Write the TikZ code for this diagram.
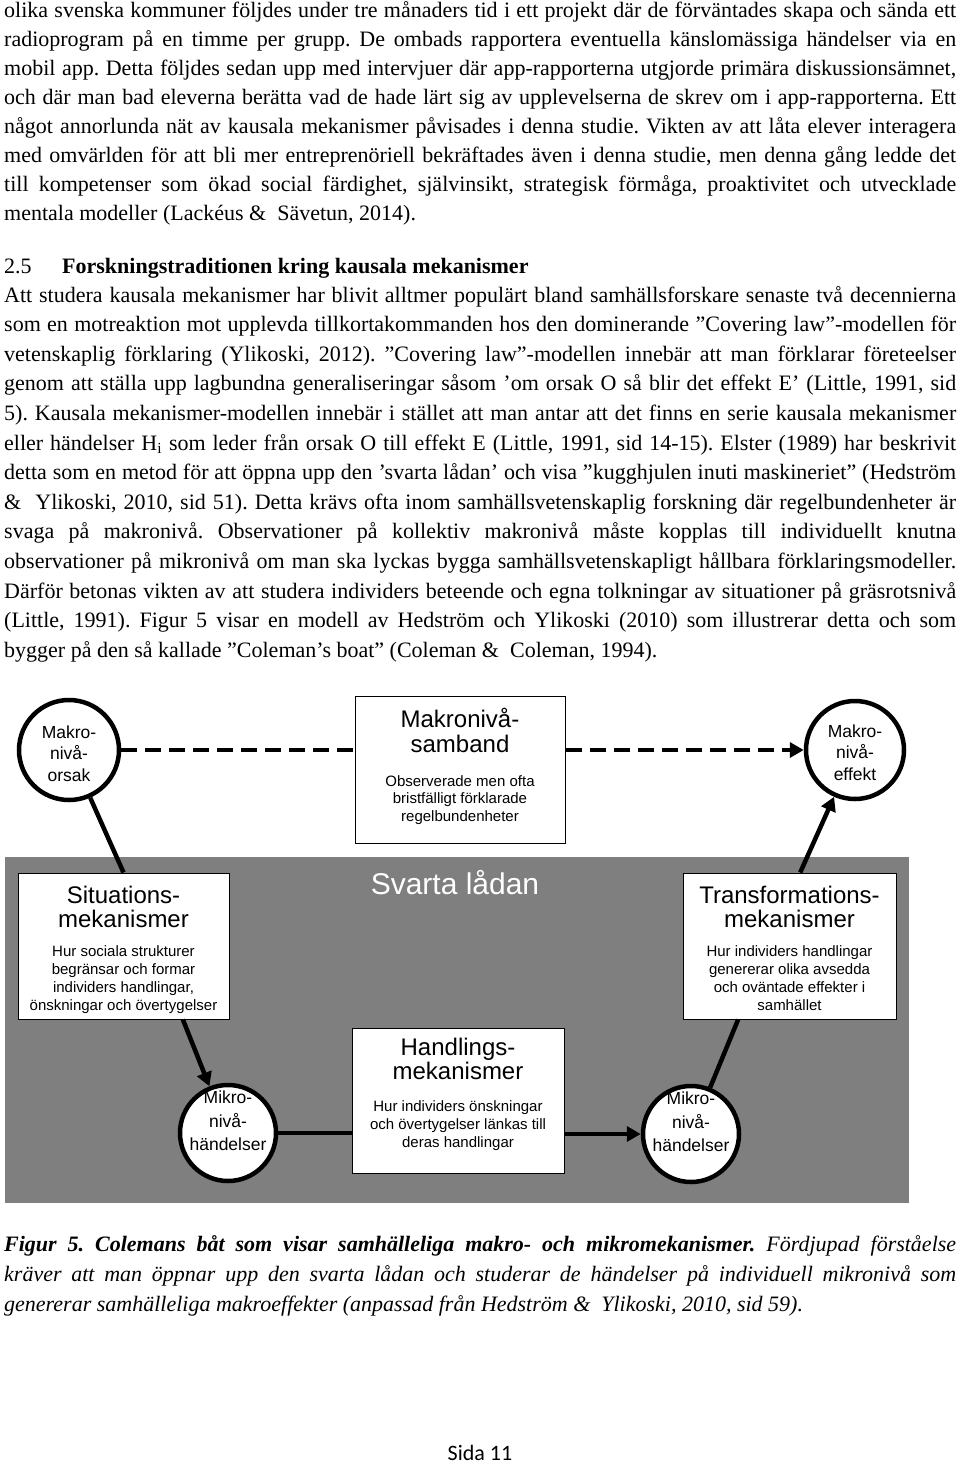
\documentclass[tikz,border=0pt]{standalone}
\usepackage{fontspec}
\usepackage{graphicx}
\setmainfont{Liberation Serif}
\newfontfamily\diafont{Liberation Sans}
\newfontfamily\pagefont{Carlito}
\usetikzlibrary{arrows.meta,calc}
\definecolor{boxgray}{RGB}{127,127,127}
\frenchspacing
\newcommand\jline[1]{\setbox0\hbox{#1}\ifdim\wd0>952pt \resizebox{952pt}{\height}{\box0}\else\makebox[952pt][s]{#1}\fi}
\tikzset{
  body/.style={anchor=base west,inner sep=0pt,font=\fontsize{22}{26}\selectfont},
  diatitle/.style={anchor=base,inner sep=0pt,font=\diafont\fontsize{24}{25}\selectfont},
  diasub/.style={anchor=base,inner sep=0pt,font=\diafont\fontsize{15}{17}\selectfont},
  circtext/.style={anchor=base,inner sep=0pt,font=\diafont\fontsize{17.5}{20}\selectfont},
  mbox/.style={draw=black,line width=1pt,fill=white,rectangle,inner sep=0pt},
  level/.style={draw=black,line width=4.5pt,fill=white,circle,minimum size=96pt,inner sep=0pt},
  link/.style={line width=4.5pt,draw=black},
  arrowlink/.style={link,-{Triangle[length=14pt,width=15pt]}},
  dashlink/.style={link,dash pattern=on 16pt off 8pt}
}
\begin{document}
\begin{tikzpicture}[x=1pt,y=-1pt]
\useasboundingbox (0,0) rectangle (960,1465);
\fill[white] (0,0) rectangle (960,1465);
% paragraph 1
\node[body] (p1) at (4,17.5) {\jline{olika svenska kommuner följdes under tre månaders tid i ett projekt där de förväntades skapa och sända ett}};
\node[body] (p2) at (4,46.5) {\jline{radioprogram på en timme per grupp. De ombads rapportera eventuella känslomässiga händelser via en}};
\node[body] (p3) at (4,75.5) {\jline{mobil app. Detta följdes sedan upp med intervjuer där app-rapporterna utgjorde primära diskussionsämnet,}};
\node[body] (p4) at (4,104.5) {\jline{och där man bad eleverna berätta vad de hade lärt sig av upplevelserna de skrev om i app-rapporterna. Ett}};
\node[body] (p5) at (4,133.5) {\jline{något annorlunda nät av kausala mekanismer påvisades i denna studie. Vikten av att låta elever interagera}};
\node[body] (p6) at (4,162.5) {\jline{med omvärlden för att bli mer entreprenöriell bekräftades även i denna studie, men denna gång ledde det}};
\node[body] (p7) at (4,191.5) {\jline{till kompetenser som ökad social färdighet, självinsikt, strategisk förmåga, proaktivitet och utvecklade}};
\node[body] (p8) at (4,220.5) {mentala modeller (Lackéus \&~ Sävetun, 2014).};
% heading
\node[body] (h1) at (4,273) {2.5};
\node[body,font=\fontsize{22}{26}\selectfont\bfseries] (h2) at (62,273) {Forskningstraditionen kring kausala mekanismer};
% paragraph 2
\node[body] (q1) at (4,302) {\jline{Att studera kausala mekanismer har blivit alltmer populärt bland samhällsforskare senaste två decennierna}};
\node[body] (q2) at (4,331.6) {\jline{som en motreaktion mot upplevda tillkortakommanden hos den dominerande ”Covering law”-modellen för}};
\node[body] (q3) at (4,361.2) {\jline{vetenskaplig förklaring (Ylikoski, 2012). ”Covering law”-modellen innebär att man förklarar företeelser}};
\node[body] (q4) at (4,390.8) {\jline{genom att ställa upp lagbundna generaliseringar såsom ’om orsak O så blir det effekt E’ (Little, 1991, sid}};
\node[body] (q5) at (4,420.4) {\jline{5). Kausala mekanismer-modellen innebär i stället att man antar att det finns en serie kausala mekanismer}};
\node[body] (q6) at (4,450) {\jline{eller händelser H\textsubscript{i} som leder från orsak O till effekt E (Little, 1991, sid 14-15). Elster (1989) har beskrivit}};
\node[body] (q7) at (4,479.6) {\jline{detta som en metod för att öppna upp den ’svarta lådan’ och visa ”kugghjulen inuti maskineriet” (Hedström}};
\node[body] (q8) at (4,509.2) {\jline{\&~ Ylikoski, 2010, sid 51). Detta krävs ofta inom samhällsvetenskaplig forskning där regelbundenheter är}};
\node[body] (q9) at (4,538.8) {\jline{svaga på makronivå. Observationer på kollektiv makronivå måste kopplas till individuellt knutna}};
\node[body] (q10) at (4,568.4) {\jline{observationer på mikronivå om man ska lyckas bygga samhällsvetenskapligt hållbara förklaringsmodeller.}};
\node[body] (q11) at (4,598) {\jline{Därför betonas vikten av att studera individers beteende och egna tolkningar av situationer på gräsrotsnivå}};
\node[body] (q12) at (4,627.6) {\jline{(Little, 1991). Figur 5 visar en modell av Hedström och Ylikoski (2010) som illustrerar detta och som}};
\node[body] (q13) at (4,657.2) {bygger på den så kallade ”Coleman’s boat” (Coleman \&~ Coleman, 1994).};
% ---------------- diagram ----------------
\fill[boxgray] (5,857) rectangle (909,1203);
\node[anchor=base,inner sep=0pt,text=white,font=\diafont\fontsize{30}{32}\selectfont] (svarta) at (455,894) {Svarta lådan};
% boxes
\node[mbox,minimum width=210pt,minimum height=147pt] (samband) at (460,769.5) {};
\node[mbox,minimum width=211pt,minimum height=146pt] (situ) at (123.5,946) {};
\node[mbox,minimum width=213pt,minimum height=146pt] (trans) at (789.5,946) {};
\node[mbox,minimum width=212pt,minimum height=145pt] (hand) at (458,1100.5) {};
% circles
\node[level,minimum size=100pt] (orsak) at (69,750) {};
\node[level,minimum size=98pt] (effekt) at (855,750) {};
\node[level,minimum size=96pt] (mikroL) at (228,1133) {};
\node[level,minimum size=96pt] (mikroR) at (691,1134) {};
% box texts
\node[diatitle] (sb1) at (460,727) {Makronivå-};
\node[diatitle] (sb2) at (460,752) {samband};
\node[diasub] (sb3) at (460,786) {Observerade men ofta};
\node[diasub] (sb4) at (460,803.5) {bristfälligt förklarade};
\node[diasub] (sb5) at (460,821) {regelbundenheter};
\node[diatitle] (si1) at (123.5,903) {Situations-};
\node[diatitle] (si2) at (123.5,927) {mekanismer};
\node[diasub] (si3) at (123.5,956) {Hur sociala strukturer};
\node[diasub] (si4) at (123.5,974) {begränsar och formar};
\node[diasub] (si5) at (123.5,992) {individers handlingar,};
\node[diasub] (si6) at (123.5,1010) {önskningar och övertygelser};
\node[diatitle] (tr1) at (789.5,903) {Transformations-};
\node[diatitle] (tr2) at (789.5,927) {mekanismer};
\node[diasub] (tr3) at (789.5,956) {Hur individers handlingar};
\node[diasub] (tr4) at (789.5,974) {genererar olika avsedda};
\node[diasub] (tr5) at (789.5,992) {och oväntade effekter i};
\node[diasub] (tr6) at (789.5,1010) {samhället};
\node[diatitle] (ha1) at (458,1055) {Handlings-};
\node[diatitle] (ha2) at (458,1079) {mekanismer};
\node[diasub] (ha3) at (458,1111) {Hur individers önskningar};
\node[diasub] (ha4) at (458,1129) {och övertygelser länkas till};
\node[diasub] (ha5) at (458,1147) {deras handlingar};
% circle texts
\node[circtext] (or1) at (69,738) {Makro-};
\node[circtext] (or2) at (69,759.5) {nivå-};
\node[circtext] (or3) at (69,781) {orsak};
\node[circtext] (ef1) at (855,737) {Makro-};
\node[circtext] (ef2) at (855,758.5) {nivå-};
\node[circtext] (ef3) at (855,780) {effekt};
\node[circtext] (ml1) at (228,1103) {Mikro-};
\node[circtext] (ml2) at (228,1127) {nivå-};
\node[circtext] (ml3) at (228,1150) {händelser};
\node[circtext] (mr1) at (691,1104) {Mikro-};
\node[circtext] (mr2) at (691,1128) {nivå-};
\node[circtext] (mr3) at (691,1151) {händelser};
% connectors
\draw[dashlink] (orsak.east) -- (orsak.east -| samband.west);
\draw[dashlink,arrowlink] (samband.east |- effekt.west) -- (effekt.west);
\draw[link] (orsak) -- (situ.north);
\draw[arrowlink] ($(situ.south west)!0.78!(situ.south east)$) -- (mikroL);
\draw[link] (mikroL.east) -- (mikroL.east -| hand.west);
\draw[arrowlink] (hand.east |- mikroR.west) -- (mikroR.west);
\draw[link] ($(trans.south west)!0.26!(trans.south east)$) -- (mikroR);
\draw[arrowlink] ($(trans.north west)!0.55!(trans.north east)$) -- (effekt);
% caption
\node[body] (c1) at (4,1251) {\jline{\bfseries\itshape Figur 5. Colemans båt som visar samhälleliga makro- och mikromekanismer.\mdseries\ Fördjupad förståelse}};
\node[body,font=\fontsize{22}{26}\selectfont\itshape] (c2) at (4,1281) {\jline{kräver att man öppnar upp den svarta lådan och studerar de händelser på individuell mikronivå som}};
\node[body,font=\fontsize{22}{26}\selectfont\itshape] (c3) at (4,1311) {genererar samhälleliga makroeffekter (anpassad från Hedström \&~ Ylikoski, 2010, sid 59).};
% page number
\node[anchor=base,inner sep=0pt,font=\pagefont\fontsize{22}{24}\selectfont] (sida) at (480,1460) {Sida 11};
\end{tikzpicture}
\end{document}
